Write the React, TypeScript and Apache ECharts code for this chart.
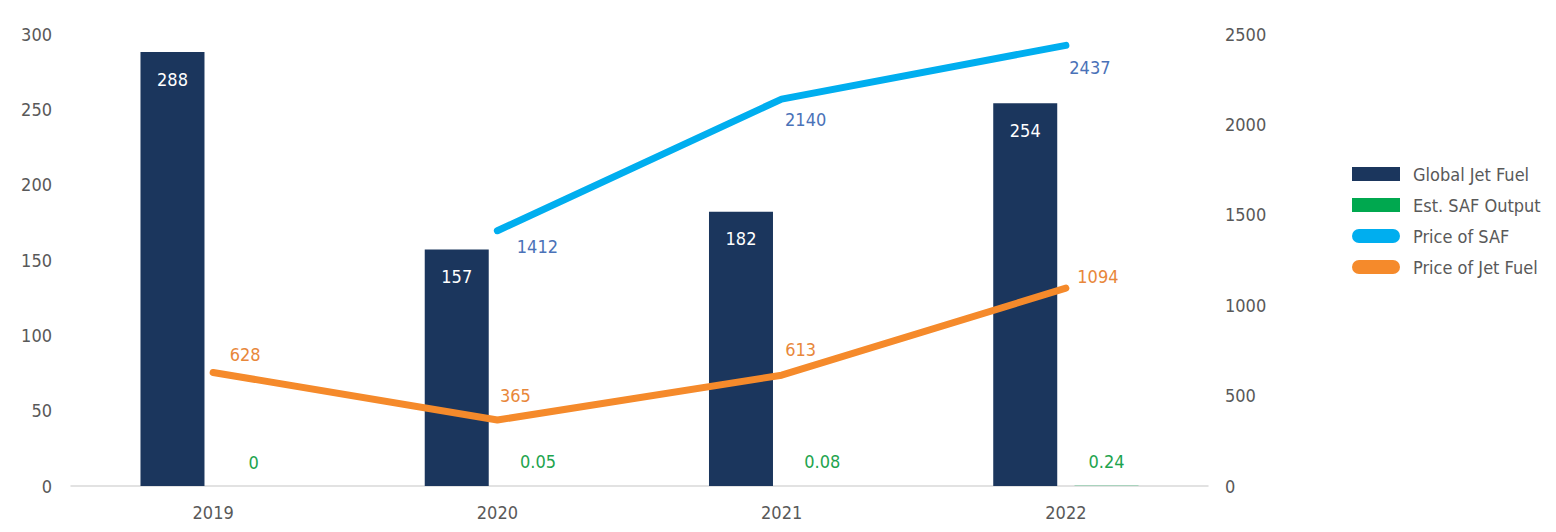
import React, { useEffect, useRef } from "react";
import * as echarts from "echarts";

const years = ["2019", "2020", "2021", "2022"];
const globalJetFuel = [288, 157, 182, 254];
const safOutput = [0, 0.05, 0.08, 0.24];
const priceSAF: (number | null)[] = [null, 1412, 2140, 2437];
const priceJetFuel = [628, 365, 613, 1094];
const leftTicks = { min: 0, max: 300, interval: 50 };
const rightTicks = { min: 0, max: 2500, interval: 500 };

// label offsets (layout only)
const safLabelOffsets = [[0, 0], [40, 16], [24, 20], [24, 22]];
const jetLabelOffsets = [[32, -18], [18, -25], [19, -26], [32, -12]];

const FONT = "'DejaVu Sans Condensed', 'Roboto', sans-serif";
const GREY = "#595959";
const FS = 18;

export default function App() {
  const ref = useRef<HTMLDivElement>(null);
  useEffect(() => {
    if (!ref.current) return;
    const chart = echarts.init(ref.current, undefined, { renderer: "svg" });
    const capsule = "path://M7,0 L41,0 A7,7 0 0 1 41,14 L7,14 A7,7 0 0 1 7,0 Z";
    chart.setOption({
      animation: false,
      textStyle: { fontFamily: FONT },
      grid: { left: 71, right: 348, top: 34, bottom: 46 },
      legend: {
        orient: "vertical",
        left: 1347,
        top: 160,
        itemWidth: 48,
        itemHeight: 14,
        itemGap: 13,
        textStyle: { color: GREY, fontSize: FS, fontFamily: FONT, padding: [0, 0, 0, 8] },
        data: [
          { name: "Global Jet Fuel", icon: "rect" },
          { name: "Est. SAF Output", icon: "rect" },
          { name: "Price of SAF", icon: capsule },
          { name: "Price of Jet Fuel", icon: capsule },
        ],
      },
      xAxis: {
        type: "category",
        data: years,
        axisLine: { lineStyle: { color: "#d9d9d9", width: 1.5 } },
        axisTick: { show: false },
        axisLabel: { color: GREY, fontSize: FS, margin: 17, fontFamily: FONT },
      },
      yAxis: [
        {
          type: "value",
          ...leftTicks,
          axisLine: { show: false },
          axisTick: { show: false },
          splitLine: { show: false },
          axisLabel: { color: GREY, fontSize: FS, margin: 19, fontFamily: FONT },
        },
        {
          type: "value",
          ...rightTicks,
          axisLine: { show: false },
          axisTick: { show: false },
          splitLine: { show: false },
          axisLabel: {
            color: GREY,
            fontSize: FS,
            margin: 17,
            fontFamily: FONT,
            formatter: (v: number) => String(v),
          },
        },
      ],
      series: [
        {
          name: "Global Jet Fuel",
          type: "bar",
          data: globalJetFuel,
          barWidth: 64,
          barGap: "27%",
          itemStyle: { color: "#1b365d" },
          label: {
            show: true,
            position: "insideTop",
            distance: 18,
            color: "#ffffff",
            fontSize: FS,
            fontFamily: FONT,
          },
        },
        {
          name: "Est. SAF Output",
          type: "bar",
          data: safOutput,
          barWidth: 64,
          itemStyle: { color: "#00a84f" },
          label: {
            show: true,
            position: "top",
            distance: 15,
            color: "#1ea44e",
            fontSize: FS,
            fontFamily: FONT,
          },
        },
        {
          name: "Price of SAF",
          type: "line",
          yAxisIndex: 1,
          data: priceSAF.map((v, i) => ({
            value: v,
            label: { offset: safLabelOffsets[i] },
          })),
          symbol: "circle",
          symbolSize: 1,
          itemStyle: { color: "#00aeef" },
          lineStyle: { color: "#00aeef", width: 7, cap: "round", join: "round" },
          label: {
            show: true,
            position: "inside",
            color: "#4a72b8",
            fontSize: FS,
            fontFamily: FONT,
          },
          z: 3,
        },
        {
          name: "Price of Jet Fuel",
          type: "line",
          yAxisIndex: 1,
          data: priceJetFuel.map((v, i) => ({
            value: v,
            label: { offset: jetLabelOffsets[i] },
          })),
          symbol: "circle",
          symbolSize: 1,
          itemStyle: { color: "#f58a2b" },
          lineStyle: { color: "#f58a2b", width: 7, cap: "round", join: "round" },
          label: {
            show: true,
            position: "inside",
            color: "#e8873a",
            fontSize: FS,
            fontFamily: FONT,
          },
          z: 3,
        },
      ],
    });
    return () => chart.dispose();
  }, []);
  return (
    <div
      ref={ref}
      style={{ position: "fixed", left: 0, top: 0, width: 1556, height: 532, background: "#ffffff" }}
    />
  );
}
